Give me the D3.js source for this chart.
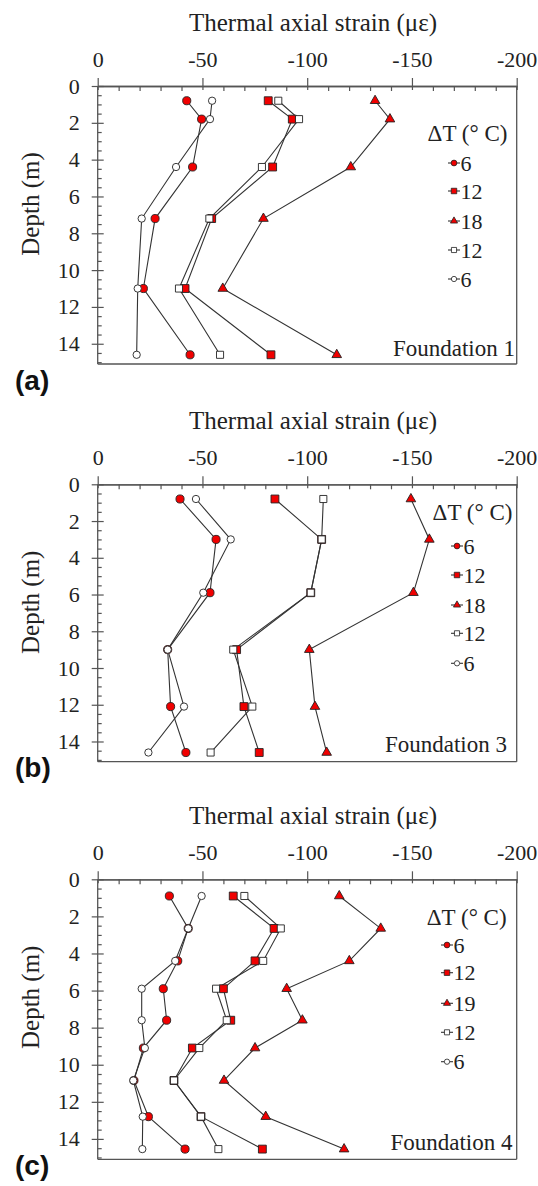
<!DOCTYPE html>
<html><head><meta charset="utf-8">
<script src="https://cdn.jsdelivr.net/npm/d3@7"></script>
<style>
html,body{margin:0;padding:0;background:#fff;}
svg{display:block;}
svg text{font-family:"Liberation Serif","DejaVu Serif",serif;}
svg text.letter{font-family:"Liberation Sans",Arial,sans-serif;}
</style></head>
<body>
<div id="chart"></div>
<script>
// ---------- data ----------
const xTicks = [0, -50, -100, -150, -200];
const yTicks = [0, 2, 4, 6, 8, 10, 12, 14];
const xTitle = "Thermal axial strain (με)";
const yTitle = "Depth (m)";
const legendTitle = "ΔT (° C)";

const legendA = ["6", "12", "18", "12", "6"];
const legendB = ["6", "12", "18", "12", "6"];
const legendC = ["6", "12", "19", "12", "6"];

// Foundation 1
const depthA = [0.8, 1.8, 4.4, 7.2, 11.0, 14.6];
const aHeat6  = [-42.5, -49.6, -45.3, -27.4, -21.8, -44.1];
const aHeat12 = [-81.4, -92.9, -83.5, -54.4, -41.7, -82.7];
const aHeat18 = [-132.4, -139.5, -120.8, -79.1, -59.7, -114.1];
const aCool12 = [-86.2, -96.1, -78.4, -53.3, -38.8, -58.4];
const aCool6  = [-54.6, -53.6, -37.4, -21.0, -19.1, -18.6];

// Foundation 3
const depthB = [0.8, 3.0, 5.9, 9.0, 12.1, 14.6];
const bHeat6  = [-39.3, -56.5, -53.6, -33.4, -34.8, -42.1];
const bHeat12 = [-84.6, -106.9, -101.7, -66.3, -69.8, -77.1];
const bHeat18 = [-149.5, -158.3, -150.7, -101.0, -103.7, -109.3];
const bCool12 = [-107.7, -106.9, -101.7, -64.7, -73.8, -53.9];
const bCool6  = [-46.9, -63.5, -50.4, -33.4, -41.2, -24.2];

// Foundation 4
const depthC = [0.9, 2.65, 4.4, 5.9, 7.6, 9.1, 10.85, 12.8, 14.55];
const cHeat6  = [-34.2, -43.2, -38.2, -31.3, -32.9, -21.8, -17.3, -24.2, -41.7];
const cHeat12 = [-64.7, -84.2, -75.1, -60.0, -63.5, -45.2, -36.4, -49.3, -78.6];
const cHeat19 = [-115.3, -135.1, -120.1, -90.2, -97.7, -75.1, -60.3, -80.2, -117.6];
const cCool12 = [-70.0, -87.4, -79.0, -56.5, -61.6, -48.5, -36.4, -49.3, -57.6];
const cCool6  = [-49.6, -43.2, -37.0, -21.0, -21.0, -22.5, -17.0, -21.5, -21.3];

// ---------- layout ----------
const W = 538, H = 1186;
const RED = "#f00000";

const styles = [
  {sym: d3.symbolCircle,   fill: RED,    size: 52, lsize: 26},
  {sym: d3.symbolSquare,   fill: RED,    size: 62, lsize: 30},
  {sym: d3.symbolTriangle, fill: RED,    size: 40, lsize: 22},
  {sym: d3.symbolSquare,   fill: "#fff", size: 50, lsize: 26},
  {sym: d3.symbolCircle,   fill: "#fff", size: 42, lsize: 22}
];

const panels = [
  {top: 86, bottom: 364, letter: "(a)", letterY: 390, found: "Foundation 1", foundX: 515, foundY: 355.5,
   depth: depthA, series: [aHeat6, aHeat12, aHeat18, aCool12, aCool6], legend: legendA,
   legX: 454, legTitleX: 467.5, legTitleDy: 47, legRows: [77, 105, 135, 164, 193]},
  {top: 484.3, bottom: 761.7, letter: "(b)", letterY: 777, found: "Foundation 3", foundX: 507, foundY: 751.5,
   depth: depthB, series: [bHeat6, bHeat12, bHeat18, bCool12, bCool6], legend: legendB,
   legX: 457, legTitleX: 472.5, legTitleDy: 27.4, legRows: [61.7, 90.7, 120.7, 149, 179]},
  {top: 879.3, bottom: 1159.3, letter: "(c)", letterY: 1175, found: "Foundation 4", foundX: 512.5, foundY: 1150,
   depth: depthC, series: [cHeat6, cHeat12, cHeat19, cCool12, cCool6], legend: legendC,
   legX: 447, legTitleX: 466.7, legTitleDy: 37.4, legRows: [65.7, 93.4, 124, 153, 182.4]}
];

const L = 97.7, R = 516.7;
const svg = d3.select("#chart").append("svg").attr("width", W).attr("height", H);
svg.append("rect").attr("width", W).attr("height", H).attr("fill", "#fff");

const x = d3.scaleLinear().domain([0, -200]).range([L, R]);

panels.forEach(p => {
  const y = d3.scaleLinear().domain([0, 15.1]).range([p.top, p.bottom]);
  const g = svg.append("g");
  const axColor = "#555";

  // frame (right and bottom)
  g.append("line").attr("x1", R).attr("x2", R).attr("y1", p.top).attr("y2", p.bottom)
    .attr("stroke", axColor).attr("stroke-width", 1.3);
  g.append("line").attr("x1", L).attr("x2", R).attr("y1", p.bottom).attr("y2", p.bottom)
    .attr("stroke", axColor).attr("stroke-width", 1.3);

  // top axis major
  const xa = g.append("g").attr("transform", `translate(0,${p.top})`)
    .call(d3.axisTop(x).tickValues(xTicks).tickSizeInner(8).tickSizeOuter(0).tickPadding(11)
      .tickFormat(d => String(d)));
  xa.selectAll(".tick line").attr("y1", 4);
  // top axis minor
  g.append("g").attr("transform", `translate(0,${p.top})`)
    .call(d3.axisTop(x).tickValues(d3.range(-10, -200, -10).filter(v => v % 50 !== 0))
      .tickSizeInner(-5).tickSizeOuter(0).tickFormat(""));

  // left axis major
  const ya = g.append("g").attr("transform", `translate(${L},0)`)
    .call(d3.axisLeft(y).tickValues(yTicks).tickSizeInner(6).tickSizeOuter(0).tickPadding(12)
      .tickFormat(d => String(d)));
  ya.selectAll(".tick line").attr("x1", 6);
  ya.select(".domain").attr("d", `M0,${p.top}V${p.bottom}`);
  // left axis minor
  g.append("g").attr("transform", `translate(${L},0)`)
    .call(d3.axisLeft(y).tickValues(d3.range(0.5, 15.01, 0.5).filter(v => v % 2 !== 0))
      .tickSizeInner(-4).tickSizeOuter(0).tickFormat(""))
    .select(".domain").remove();

  g.selectAll("g").attr("font-family", null);
  g.selectAll(".domain").attr("stroke", axColor).attr("stroke-width", 1.3);
  g.selectAll(".tick line").attr("stroke", axColor).attr("stroke-width", 1.2);
  g.selectAll(".tick text").attr("font-size", 22).attr("fill", "#222");

  // titles
  g.append("text").attr("x", 313).attr("y", p.top - 55)
    .attr("text-anchor", "middle").attr("font-size", 25).attr("fill", "#222")
    .text(xTitle);
  g.append("text").attr("transform", `translate(39,${p.top + 118}) rotate(-90)`)
    .attr("text-anchor", "middle").attr("font-size", 25).attr("fill", "#222")
    .text(yTitle);

  // series
  const line = d3.line().x(d => x(d[0])).y(d => y(d[1]));
  p.series.forEach((vals, i) => {
    const pts = vals.map((v, k) => [v, p.depth[k]]);
    g.append("path").attr("d", line(pts)).attr("fill", "none")
      .attr("stroke", "#333").attr("stroke-width", 1.1);
  });
  p.series.forEach((vals, i) => {
    const st = styles[i];
    const pts = vals.map((v, k) => [v, p.depth[k]]);
    g.selectAll(null).data(pts).enter().append("path")
      .attr("transform", d => `translate(${x(d[0])},${y(d[1])})`)
      .attr("d", d3.symbol().type(st.sym).size(st.size))
      .attr("fill", st.fill).attr("stroke", "#222").attr("stroke-width", 0.9);
  });

  // legend
  g.append("text").attr("x", p.legTitleX).attr("y", p.top + p.legTitleDy).attr("dy", "0.35em")
    .attr("text-anchor", "middle").attr("font-size", 23).attr("fill", "#222")
    .text(legendTitle);
  p.legend.forEach((lab, i) => {
    const st = styles[i];
    const cy = p.top + p.legRows[i];
    g.append("line").attr("x1", p.legX - 6).attr("x2", p.legX + 6).attr("y1", cy).attr("y2", cy)
      .attr("stroke", "#333").attr("stroke-width", 1.1);
    g.append("path").attr("transform", `translate(${p.legX},${cy})`)
      .attr("d", d3.symbol().type(st.sym).size(st.lsize))
      .attr("fill", st.fill).attr("stroke", "#222").attr("stroke-width", 0.8);
    g.append("text").attr("x", p.legX + 6.5).attr("y", cy).attr("dy", "0.35em")
      .attr("font-size", 22).attr("fill", "#222").text(lab);
  });

  // foundation label
  g.append("text").attr("x", p.foundX).attr("y", p.foundY).attr("text-anchor", "end")
    .attr("font-size", 23).attr("fill", "#222").text(p.found);

  // panel letter
  svg.append("text").attr("class", "letter").attr("x", 15).attr("y", p.letterY)
    .attr("font-weight", "bold").attr("font-size", 28).attr("fill", "#111").text(p.letter);
});
</script>
</body></html>
